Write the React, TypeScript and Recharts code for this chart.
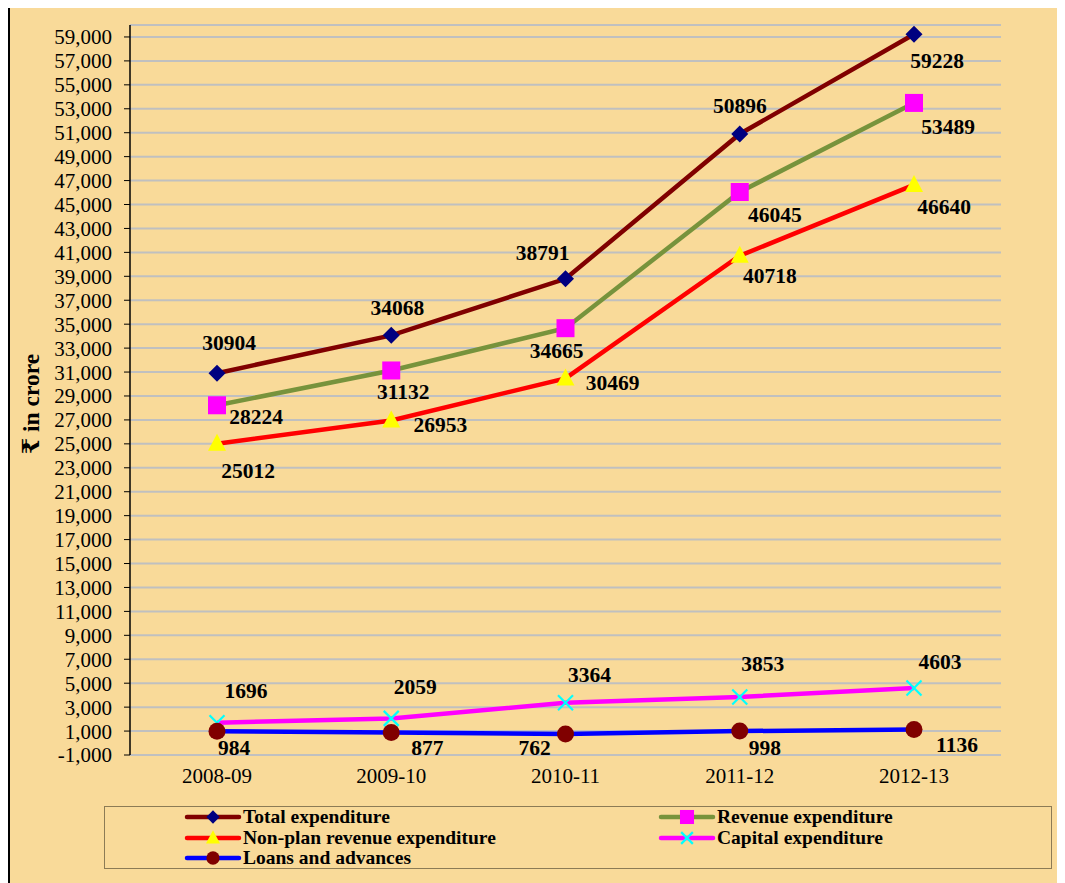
import React from 'react'
import {
  LineChart,
  Line,
  XAxis,
  YAxis,
  CartesianGrid,
  ReferenceLine,
} from 'recharts'

// data
const years = ['2008-09', '2009-10', '2010-11', '2011-12', '2012-13']
const totalExpenditure = [30904, 34068, 38791, 50896, 59228]
const revenueExpenditure = [28224, 31132, 34665, 46045, 53489]
const nonPlanRevenue = [25012, 26953, 30469, 40718, 46640]
const capitalExpenditure = [1696, 2059, 3364, 3853, 4603]
const loansAdvances = [984, 877, 762, 998, 1136]
const yTicks = Array.from({ length: 31 }, (_, i) => -1000 + i * 2000)

// label placement offsets (px) relative to each point
const totalOffsets = [[12, -30], [6, -27], [-23, -26], [0, -28], [23, 27]]
const revenueOffsets = [[39, 12], [12, 22], [-9, 23], [35, 23], [34, 24]]
const nonPlanOffsets = [[31, 27], [49, 5], [47, 5], [30, 20], [30, 22]]
const capitalOffsets = [[29, -32], [24, -31], [24, -28], [23, -33], [26, -26]]
const loansOffsets = [[17, 17], [36, 15], [-31, 14], [25, 17], [43, 16]]

const data = years.map((year, i) => ({
  year,
  total: totalExpenditure[i],
  revenue: revenueExpenditure[i],
  nonplan: nonPlanRevenue[i],
  capital: capitalExpenditure[i],
  loans: loansAdvances[i],
}))

const SERIF = 'Liberation Serif, DejaVu Serif, serif'
const BG = '#F9DA99'

type Shape = 'diamond' | 'square' | 'triangle' | 'x' | 'circle'

const Marker = ({ shape, cx, cy, k = 1 }: { shape: Shape; cx: number; cy: number; k?: number }) => {
  if (cx == null || cy == null) return null
  switch (shape) {
    case 'diamond': {
      const h = 8.5 * k
      return <path d={`M${cx},${cy - h} L${cx + h},${cy} L${cx},${cy + h} L${cx - h},${cy} Z`} fill="#000080" />
    }
    case 'square': {
      const h = 9 * k
      return <rect x={cx - h} y={cy - h} width={2 * h} height={2 * h} fill="#FF00FF" />
    }
    case 'triangle': {
      const w = 9 * k
      return <path d={`M${cx},${cy - 10 * k} L${cx + w},${cy + 7 * k} L${cx - w},${cy + 7 * k} Z`} fill="#FFFF00" />
    }
    case 'x': {
      const h = 7.5 * k
      return (
        <g stroke="#00FFFF" strokeWidth={2.2}>
          <line x1={cx - h} y1={cy - h} x2={cx + h} y2={cy + h} />
          <line x1={cx - h} y1={cy + h} x2={cx + h} y2={cy - h} />
        </g>
      )
    }
    default:
      return <circle cx={cx} cy={cy} r={8.5 * k} fill="#800000" />
  }
}

const makeDot = (shape: Shape) => (props: any) => (
  <Marker key={`${shape}-${props.index}`} shape={shape} cx={props.cx} cy={props.cy} />
)

const makeLabel = (offsets: number[][]) => (props: any) => {
  const { x, y, value, index } = props
  const [dx, dy] = offsets[index] || [0, 0]
  return (
    <text
      key={`lbl-${index}-${value}`}
      x={x + dx}
      y={y + dy}
      textAnchor="middle"
      dominantBaseline="central"
      style={{ fontFamily: SERIF, fontWeight: 'bold', fontSize: 21.5 }}
      fill="#000"
    >
      {value}
    </text>
  )
}

const series = [
  { key: 'total', name: 'Total expenditure', color: '#800000', shape: 'diamond' as Shape, offsets: totalOffsets },
  { key: 'revenue', name: 'Revenue expenditure', color: '#77933C', shape: 'square' as Shape, offsets: revenueOffsets },
  { key: 'nonplan', name: 'Non-plan revenue expenditure', color: '#FF0000', shape: 'triangle' as Shape, offsets: nonPlanOffsets },
  { key: 'capital', name: 'Capital expenditure', color: '#FF00FF', shape: 'x' as Shape, offsets: capitalOffsets },
  { key: 'loans', name: 'Loans and advances', color: '#0000FF', shape: 'circle' as Shape, offsets: loansOffsets },
]

const LegendItem = ({ s }: { s: (typeof series)[number] }) => (
  <div style={{ display: 'flex', alignItems: 'center', height: 20.5 }}>
    <svg width={58} height={20} style={{ marginRight: 1 }}>
      <line x1={3} y1={10} x2={55} y2={10} stroke={s.color} strokeWidth={4.5} strokeLinecap="round" />
      <Marker shape={s.shape} cx={29} cy={10} k={0.78} />
    </svg>
    <span>{s.name}</span>
  </div>
)

const YLabel = () => (
  <text
    x={21}
    y={396}
    transform="rotate(-90 21 396)"
    textAnchor="middle"
    dominantBaseline="central"
    style={{ fontFamily: SERIF, fontWeight: 'bold', fontSize: 23.5 }}
    fill="#000"
  >
    ₹ in crore
  </text>
)

const tickStyle = { fill: '#000', fontSize: 21, fontFamily: SERIF }

export default function App() {
  return (
    <div
      style={{
        position: 'relative',
        width: 1053,
        height: 880,
        marginTop: -2,
        border: '2px solid #000',
        background: BG,
        fontFamily: SERIF,
      }}
    >
      <LineChart
        width={1051}
        height={800}
        data={data}
        margin={{ top: 17, right: 60, bottom: 23, left: 0 }}
        style={{ fontFamily: SERIF }}
      >
        <CartesianGrid vertical={false} stroke="#C0C0C0" strokeWidth={2} />
        <ReferenceLine y={60000} stroke="#C0C0C0" strokeWidth={2} />
        <XAxis
          dataKey="year"
          padding={{ left: 87, right: 87 }}
          axisLine={{ stroke: '#C0C0C0', strokeWidth: 2 }}
          tickLine={false}
          tickSize={0}
          tickMargin={13}
          height={30}
          tick={tickStyle}
        />
        <YAxis
          width={120}
          domain={[-1000, 60000]}
          ticks={yTicks}
          interval={0}
          tickFormatter={(v: number) => v.toLocaleString('en-US')}
          axisLine={{ stroke: '#000', strokeWidth: 1.5 }}
          tickLine={{ stroke: '#000' }}
          tickSize={6}
          tickMargin={12}
          tick={tickStyle}
          label={<YLabel />}
        />
        <YAxis
          yAxisId="right"
          orientation="right"
          width={0}
          tick={false}
          tickLine={false}
          axisLine={{ stroke: '#C0C0C0', strokeWidth: 2 }}
        />
        {series.map((s) => (
          <Line
            key={s.key}
            dataKey={s.key}
            name={s.name}
            type="linear"
            stroke={s.color}
            strokeWidth={4.5}
            dot={makeDot(s.shape)}
            activeDot={false}
            label={makeLabel(s.offsets)}
            isAnimationActive={false}
          />
        ))}
      </LineChart>
      <div
        style={{
          position: 'absolute',
          left: 94,
          top: 798,
          width: 946,
          height: 60,
          border: '1.5px solid #8C7B55',
          fontWeight: 'bold',
          fontSize: 19.5,
          lineHeight: '20px',
          paddingTop: 1,
        }}
      >
        <div style={{ position: 'absolute', left: 79, top: 0 }}>
          {[series[0], series[2], series[4]].map((s) => (
            <LegendItem key={s.key} s={s} />
          ))}
        </div>
        <div style={{ position: 'absolute', left: 553, top: 0 }}>
          {[series[1], series[3]].map((s) => (
            <LegendItem key={s.key} s={s} />
          ))}
        </div>
      </div>
    </div>
  )
}
